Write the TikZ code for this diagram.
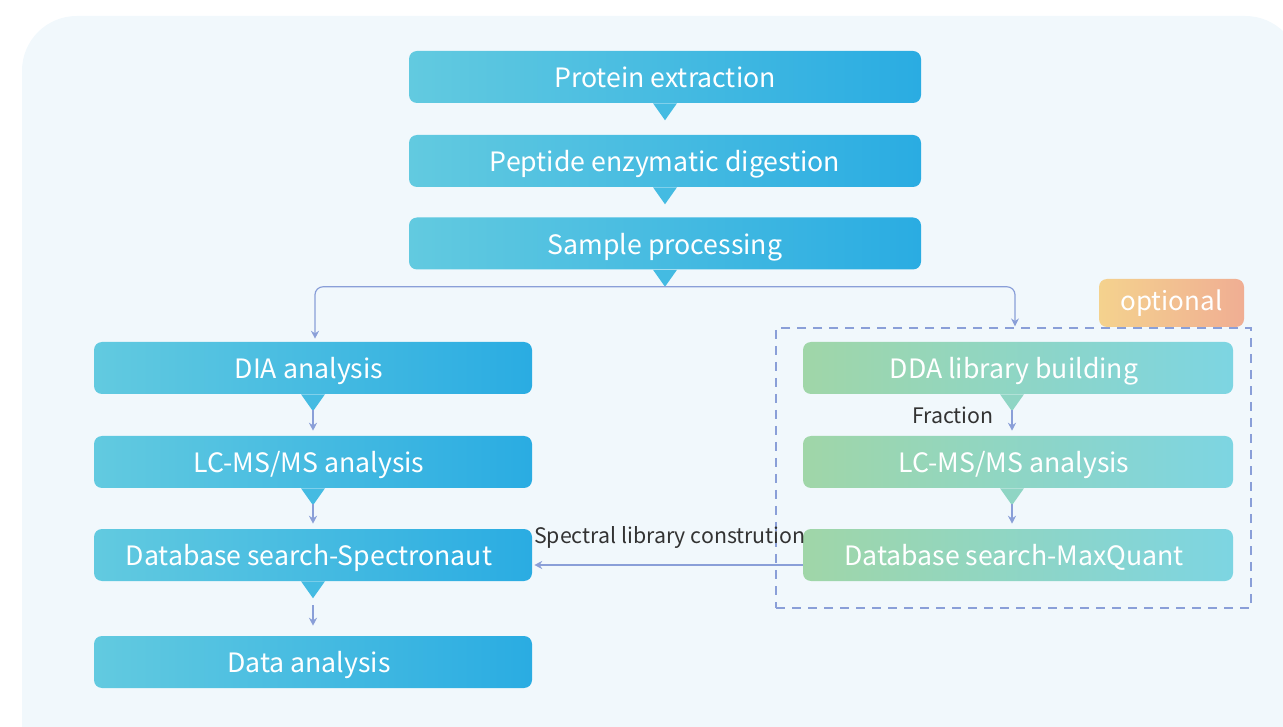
\documentclass[tikz,border=0pt]{standalone}
\usepackage{fontspec}
\setmainfont{Noto Sans CJK SC}
\usetikzlibrary{arrows.meta,calc,positioning}
\definecolor{bgc}{HTML}{F1F8FC}
\definecolor{bluel}{HTML}{62CAE0}
\definecolor{bluer}{HTML}{2AACE2}
\definecolor{bluem}{HTML}{44BBE2}
\definecolor{greenl}{HTML}{A0D6A8}
\definecolor{greenr}{HTML}{7DD5E2}
\definecolor{greenm}{HTML}{8FD5C4}
\definecolor{optl}{HTML}{F4D28E}
\definecolor{optr}{HTML}{F0AE93}
\definecolor{linec}{HTML}{8A9FD8}
\definecolor{labc}{HTML}{333333}
\tikzset{
  boxtext/.style={text=white, font=\fontsize{20}{22}\selectfont, inner sep=0pt, text depth=0pt},
  bluebox/.style={rounded corners=6pt, left color=bluel, right color=bluer, draw=none,
    minimum height=39pt, boxtext},
  greenbox/.style={rounded corners=6pt, left color=greenl, right color=greenr, draw=none,
    minimum height=39pt, minimum width=322.5pt, boxtext},
  lefttext/.style={execute at end node={\hspace{6pt}}},
  optbox/.style={rounded corners=6pt, left color=optl, right color=optr, draw=none,
    minimum height=36pt, minimum width=108.75pt, text=white, font=\fontsize{19.5}{22}\selectfont, inner sep=0pt},
  conn/.style={draw=linec, line width=0.9pt, -{Stealth[length=6pt,width=6pt]}},
  lab/.style={text=labc, font=\fontsize{16}{18}\selectfont, inner sep=0pt},
  grpbox/.style={draw=linec, line width=0.9pt, dash pattern=on 7pt off 5pt, minimum width=356.25pt, minimum height=210pt, inner sep=0pt},
}
\newcommand{\pointer}[3]{\fill[#3] ($(#1.south)+(#2,0)$) ++(-12,0) -- ++(24,0) -- ++(-12,17) -- cycle;}
\begin{document}
\begin{tikzpicture}[x=0.75pt,y=-0.75pt]
\useasboundingbox (0,0) rectangle (1283,727);
\fill[bgc, rounded corners=41pt] (22,16) rectangle (1300,780);
% group box
\node[grpbox] (grp) at (1013.5,468) {};
% top
\node[bluebox, minimum width=384pt] (prot) at (665,77) {Protein extraction};
\node[bluebox, minimum width=384pt] (pep) at (665,161) {Peptide enzymatic digestion};
\node[bluebox, minimum width=384pt] (samp) at (665,243.5) {Sample processing};
% left
\node[bluebox, lefttext, minimum width=328.5pt] (dia) at (313,368) {DIA analysis};
\node[bluebox, lefttext, minimum width=328.5pt] (lc) at (313,462) {LC-MS/MS analysis};
\node[bluebox, lefttext, minimum width=328.5pt] (db) at (313,555) {Database search-Spectronaut};
\node[bluebox, lefttext, minimum width=328.5pt] (data) at (313,662) {Data analysis};
% right
\node[greenbox, lefttext] (dda) at (1018,368) {DDA library building};
\node[greenbox, lefttext] (lc2) at (1018,462) {LC-MS/MS analysis};
\node[greenbox, lefttext] (mq) at (1018,555) {Database search-MaxQuant};
\node[optbox] (opt) at (1171.5,303) {optional};
% pointers
\pointer{prot}{0}{bluem}
\pointer{pep}{0}{bluem}
\pointer{samp}{0}{bluem}
\pointer{dia}{0}{bluem}
\pointer{lc}{0}{bluem}
\pointer{db}{0}{bluem}
\pointer{dda}{-6}{greenm}
\pointer{lc2}{-6}{greenm}
% tips
\coordinate (stip) at ($(samp.south)+(0,17)$);
\coordinate (diatip) at ($(dia.south)+(0,16)$);
\coordinate (lctip) at ($(lc.south)+(0,16)$);
\coordinate (dbtip) at ($(db.south)+(0,24)$);
\coordinate (ddatip) at ($(dda.south)+(-6,16)$);
\coordinate (lc2tip) at ($(lc2.south)+(-6,16)$);
% connectors
\draw[conn, rounded corners=6pt] (stip) -| ($(dia.north)+(2,-3)$);
\draw[conn, rounded corners=6pt] (stip) -| ($(grp.north)+(1.5,-1)$);
\draw[conn] (diatip) -- ($(lc.north)+(0,-5)$);
\draw[conn] (lctip) -- ($(db.north)+(0,-5)$);
\draw[conn] (dbtip) -- ($(data.north)+(0,-10)$);
\draw[conn] (ddatip) -- ($(lc2.north)+(-6,-5)$);
\draw[conn] (lc2tip) -- ($(mq.north)+(-6,-5)$);
\draw[conn] ($(mq.west)+(0,10)$) -- ($(db.east)+(2,10)$);
% labels
\node[lab] (frac) at (953,415) {Fraction};
\node[lab] (spec) at (670,538) {Spectral library constrution};
\end{tikzpicture}
\end{document}
